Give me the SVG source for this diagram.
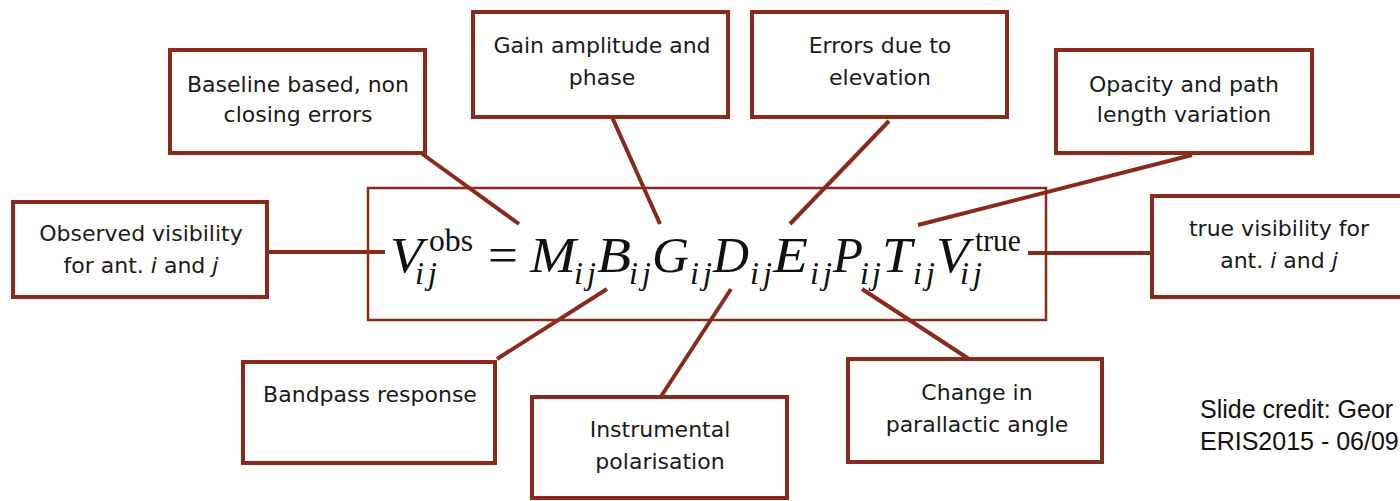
<svg xmlns="http://www.w3.org/2000/svg" width="1400" height="501" viewBox="0 0 1400 501">
  <style>
    .box { fill: #ffffff; stroke: #8a2a1c; stroke-width: 4; }
    .eqbox { fill: none; stroke: #8a2a1c; stroke-width: 2.5; }
    .conn line { stroke: #8a2a1c; stroke-width: 4; stroke-linecap: butt; }
    .lbl { font-family: "DejaVu Sans", Verdana, sans-serif; font-size: 22px; fill: #1a1a1a; text-anchor: middle; }
    .it { font-style: italic; }
    .m { font-family: "Liberation Serif", "DejaVu Serif", serif; font-size: 50px; font-style: italic; fill: #111; }
    .sub { font-family: "Liberation Serif", "DejaVu Serif", serif; font-size: 32px; font-style: italic; fill: #111; }
    .sup { font-family: "Liberation Serif", "DejaVu Serif", serif; font-size: 32px; fill: #111; }
    .rel { font-family: "Liberation Serif", "DejaVu Serif", serif; font-size: 50px; fill: #111; }
    .credit { font-family: "Liberation Sans", Arial, sans-serif; font-size: 25px; fill: #111; }
  </style>
  <rect width="1400" height="501" fill="#ffffff"/>

  <!-- connectors from each effect to its term in the equation -->
  <g id="connectors" class="conn">
    <line x1="267" y1="252" x2="385" y2="252"/>
    <line x1="1028" y1="253" x2="1152" y2="253"/>
    <line x1="421" y1="153" x2="519" y2="224"/>
    <line x1="612" y1="117" x2="660" y2="224"/>
    <line x1="889" y1="121" x2="790" y2="224"/>
    <line x1="1192" y1="155" x2="918" y2="225"/>
    <line x1="497" y1="359" x2="607" y2="289"/>
    <line x1="660" y1="398" x2="731" y2="289"/>
    <line x1="969" y1="359" x2="862" y2="289"/>
  </g>

  <!-- measurement equation: V_ij^obs = M B G D E P T V_ij^true -->
  <g id="equation">
    <rect class="eqbox" x="368" y="188" width="678" height="132"/>
    <text class="m" x="390" y="272" textLength="33" lengthAdjust="spacingAndGlyphs">V</text>
    <text class="sup" x="429" y="251" textLength="44" lengthAdjust="spacingAndGlyphs">obs</text>
    <text class="sub" x="415" y="284" textLength="22" lengthAdjust="spacing">ij</text>
    <text class="rel" x="488" y="272" textLength="30" lengthAdjust="spacingAndGlyphs">=</text>
    <text class="m" x="530" y="272" textLength="46" lengthAdjust="spacingAndGlyphs">M</text>
    <text class="sub" x="574" y="284" textLength="22" lengthAdjust="spacing">ij</text>
    <text class="m" x="597" y="272" textLength="34" lengthAdjust="spacingAndGlyphs">B</text>
    <text class="sub" x="629" y="284" textLength="22" lengthAdjust="spacing">ij</text>
    <text class="m" x="652" y="272" textLength="37" lengthAdjust="spacingAndGlyphs">G</text>
    <text class="sub" x="690" y="284" textLength="22" lengthAdjust="spacing">ij</text>
    <text class="m" x="713" y="272" textLength="36" lengthAdjust="spacingAndGlyphs">D</text>
    <text class="sub" x="750" y="284" textLength="22" lengthAdjust="spacing">ij</text>
    <text class="m" x="773" y="272" textLength="35" lengthAdjust="spacingAndGlyphs">E</text>
    <text class="sub" x="810" y="284" textLength="22" lengthAdjust="spacing">ij</text>
    <text class="m" x="833" y="272" textLength="30" lengthAdjust="spacingAndGlyphs">P</text>
    <text class="sub" x="860" y="284" textLength="21" lengthAdjust="spacing">ij</text>
    <text class="m" x="882" y="272" textLength="30" lengthAdjust="spacingAndGlyphs">T</text>
    <text class="sub" x="913" y="284" textLength="22" lengthAdjust="spacing">ij</text>
    <text class="m" x="936" y="272" textLength="33" lengthAdjust="spacingAndGlyphs">V</text>
    <text class="sup" x="975" y="251" textLength="46" lengthAdjust="spacingAndGlyphs">true</text>
    <text class="sub" x="960" y="284" textLength="22" lengthAdjust="spacing">ij</text>
  </g>

  <g id="node-baseline">
    <rect class="box" x="170" y="50" width="255" height="103"/>
    <text class="lbl" x="298" y="92">Baseline based, non</text>
    <text class="lbl" x="298" y="122">closing errors</text>
  </g>
  <g id="node-gain">
    <rect class="box" x="473" y="12" width="255" height="105"/>
    <text class="lbl" x="602" y="53">Gain amplitude and</text>
    <text class="lbl" x="602" y="85">phase</text>
  </g>
  <g id="node-elevation">
    <rect class="box" x="752" y="12" width="255" height="105"/>
    <text class="lbl" x="880" y="53">Errors due to</text>
    <text class="lbl" x="880" y="85">elevation</text>
  </g>
  <g id="node-opacity">
    <rect class="box" x="1056" y="50" width="256" height="103"/>
    <text class="lbl" x="1184" y="92">Opacity and path</text>
    <text class="lbl" x="1184" y="122">length variation</text>
  </g>
  <g id="node-observed">
    <rect class="box" x="13" y="202" width="254" height="95"/>
    <text class="lbl" x="141" y="241">Observed visibility</text>
    <text class="lbl" x="141" y="273">for ant. <tspan class="it">i</tspan> and <tspan class="it">j</tspan></text>
  </g>
  <g id="node-true">
    <rect class="box" x="1152" y="196" width="252" height="101"/>
    <text class="lbl" x="1279" y="236">true visibility for</text>
    <text class="lbl" x="1279" y="268">ant. <tspan class="it">i</tspan> and <tspan class="it">j</tspan></text>
  </g>
  <g id="node-bandpass">
    <rect class="box" x="243" y="362" width="252" height="101"/>
    <text class="lbl" x="370" y="402">Bandpass response</text>
  </g>
  <g id="node-polarisation">
    <rect class="box" x="532" y="397" width="255" height="101"/>
    <text class="lbl" x="660" y="437">Instrumental</text>
    <text class="lbl" x="660" y="469">polarisation</text>
  </g>
  <g id="node-parallactic">
    <rect class="box" x="848" y="359" width="254" height="103"/>
    <text class="lbl" x="977" y="400">Change in</text>
    <text class="lbl" x="977" y="432">parallactic angle</text>
  </g>

  <text class="credit" x="1200" y="418">Slide credit: Geor</text>
  <text class="credit" x="1200" y="450">ERIS2015 - 06/09</text>
</svg>
